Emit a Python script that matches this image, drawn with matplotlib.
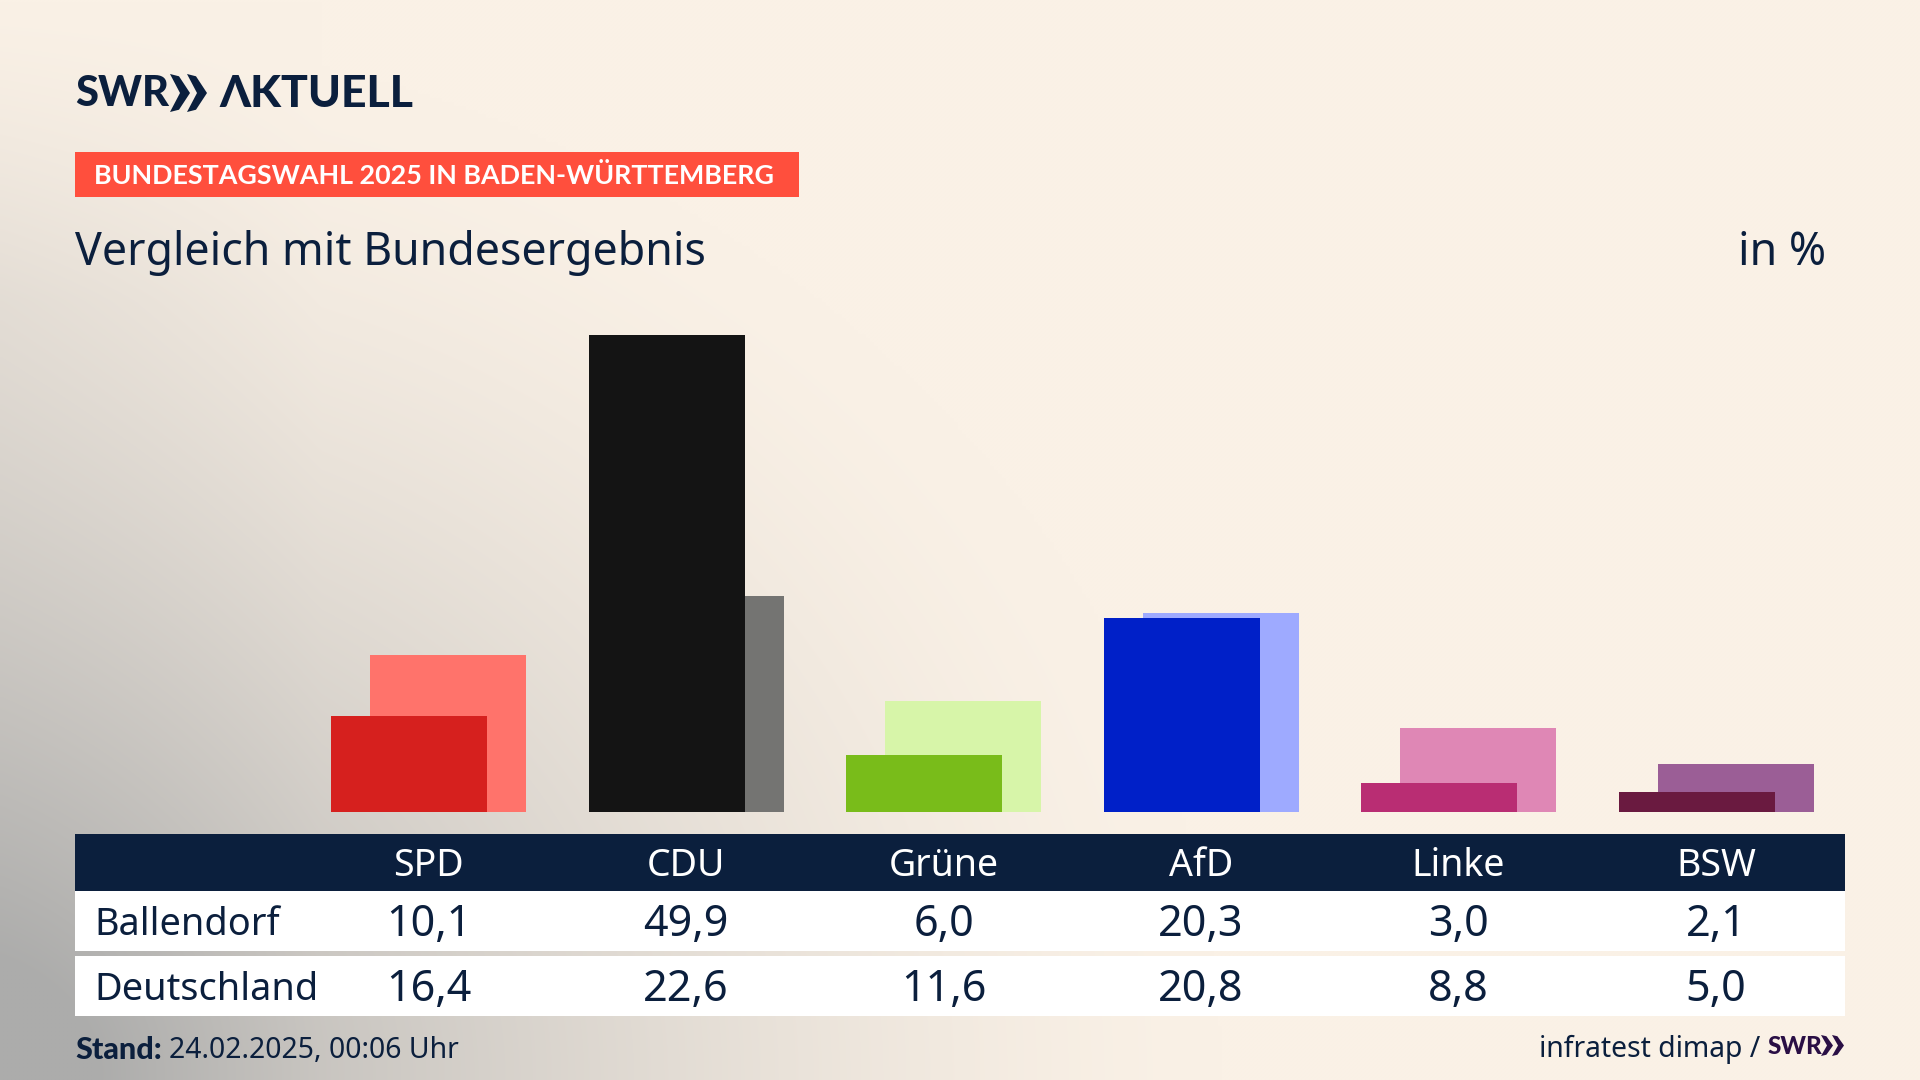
import numpy as np
import matplotlib
matplotlib.use("Agg")
import matplotlib.pyplot as plt
from matplotlib.patches import Polygon, Rectangle

parties = ["SPD", "CDU", "Grüne", "AfD", "Linke", "BSW"]
ballendorf = [10.1, 49.9, 6.0, 20.3, 3.0, 2.1]
deutschland = [16.4, 22.6, 11.6, 20.8, 8.8, 5.0]
dark_colors = ["#D6201E", "#141414", "#79BC1A", "#0020C8", "#B92D73", "#6A1A40"]
light_colors = ["#FF736B", "#747472", "#D7F5A9", "#9EAAFF", "#DF87B5", "#9B5E96"]
row_names = ["Ballendorf", "Deutschland"]

NAVY = "#0B1F3D"
W, H = 1920, 1080
plt.rcParams['font.family'] = ["Noto Sans", 'DejaVu Sans']
BOLD = ["Lato", "Open Sans", "DejaVu Sans"]


def fmt(v):
    return f"{v:.1f}".replace(".", ",")


def chevrons(ax, x0, y0, y1, w, gap, color):
    # two arrow heads of the SWR logo
    mid = (y0 + y1) / 2
    for k in range(2):
        x = x0 + k * gap
        ax.add_patch(Polygon([(x, y0), (x + w * 0.45, y0 + (y1 - y0) * 0.06), (x + w, mid),
                              (x + w * 0.45, y1 - (y1 - y0) * 0.06), (x, y1), (x + w * 0.5, mid)],
                             closed=True, fc=color, ec="none", zorder=3))


fig = plt.figure(figsize=(19.2, 10.8), dpi=100)

# background: cream with grey glow from the lower left corner
ax = fig.add_axes([0, 0, 1, 1])
yy, xx = np.mgrid[0:H:270j, 0:W:480j]
d1 = np.sqrt((xx / 1220) ** 2 + ((H - yy) / 1050) ** 2)
t = np.clip(1 - d1, 0, 1) ** 1.5 + np.clip(1 - xx / 320, 0, 1) * 0.16 * np.clip(yy / 300, 0, 1)
t = np.clip(t, 0, 1)[..., None]
cream = np.array([250, 241, 230]) / 255
grey = np.array([172, 172, 171]) / 255
ax.imshow(cream + (grey - cream) * t, extent=(0, W, H, 0), aspect="auto", interpolation="bilinear", zorder=0)
ax.set_xlim(0, W)
ax.set_ylim(H, 0)
ax.axis("off")

# logo
ax.text(75, 94, "SWR", fontsize=30, fontweight="black", family=BOLD, color=NAVY, va="center", ha="left", zorder=3)
chevrons(ax, 170, 74, 112, 20, 17, NAVY)
ax.text(219, 94, "ΛKTUELL", fontsize=32, fontweight="black", family=BOLD, color=NAVY, va="center", ha="left", zorder=3)

# headline
ax.add_patch(Rectangle((75, 152), 724, 45, fc="#FF4F3D", ec="none", zorder=2))
ax.text(94, 176, "BUNDESTAGSWAHL 2025 IN BADEN-WÜRTTEMBERG", fontsize=19.4, fontweight="bold", family=BOLD,
        color="white", va="center", ha="left", zorder=3)
ax.text(75, 253, "Vergleich mit Bundesergebnis", fontsize=32.2, color=NAVY, va="center", ha="left", zorder=3)
ax.text(1826, 253, "in %", fontsize=32.2, color=NAVY, va="center", ha="right", zorder=3)

# table
col_x = 428.6 + 257.5 * np.arange(len(parties))
ax.add_patch(Rectangle((75, 834), 1770, 57, fc=NAVY, ec="none", zorder=2))
ax.add_patch(Rectangle((75, 891), 1770, 60, fc="white", ec="none", zorder=2))
ax.add_patch(Rectangle((75, 956), 1770, 60, fc="white", ec="none", zorder=2))
for x, party, a, b in zip(col_x, parties, ballendorf, deutschland):
    ax.text(x, 866, party, fontsize=27, color="white", ha="center", va="center", zorder=3)
    ax.text(x, 925, fmt(a), fontsize=31, color=NAVY, ha="center", va="center", zorder=3)
    ax.text(x, 990, fmt(b), fontsize=31, color=NAVY, ha="center", va="center", zorder=3)
ax.text(94, 925, row_names[0], fontsize=27.3, color=NAVY, ha="left", va="center", zorder=3)
ax.text(94, 990, row_names[1], fontsize=27.3, color=NAVY, ha="left", va="center", zorder=3)

# footer
ax.text(75, 1050, "Stand:", fontsize=22, fontweight="black", family=BOLD, color=NAVY, ha="left", va="center", zorder=3)
ax.text(169, 1050, "24.02.2025, 00:06 Uhr", fontsize=20.4, color=NAVY, ha="left", va="center", zorder=3)
ax.text(1760, 1049, "infratest dimap /", fontsize=20.4, color=NAVY, ha="right", va="center", zorder=3)
ax.text(1768, 1046, "SWR", fontsize=17.5, fontweight="black", family=BOLD, color="#2A0F45", ha="left", va="center", zorder=3)
chevrons(ax, 1821, 1035, 1056, 12, 11, "#2A0F45")

# bars, y scale: 9.55 px per percent point, baseline at pixel 812
bar_ax = fig.add_axes([0, 1 - 812 / H, 1, 812 / H])
bar_ax.patch.set_alpha(0)
bar_ax.set_xlim(-428.6 / 257.5, (W - 428.6) / 257.5)
bar_ax.set_ylim(0, 812 / 9.55)
bar_ax.axis("off")
pos = np.arange(len(parties))
bar_w = 156 / 257.5
off = 19.5 / 257.5
bar_ax.bar(pos + off, deutschland, width=bar_w, color=light_colors, linewidth=0, zorder=2)
bar_ax.bar(pos - off, ballendorf, width=bar_w, color=dark_colors, linewidth=0, zorder=3)

fig.savefig("out.png", dpi=100)
